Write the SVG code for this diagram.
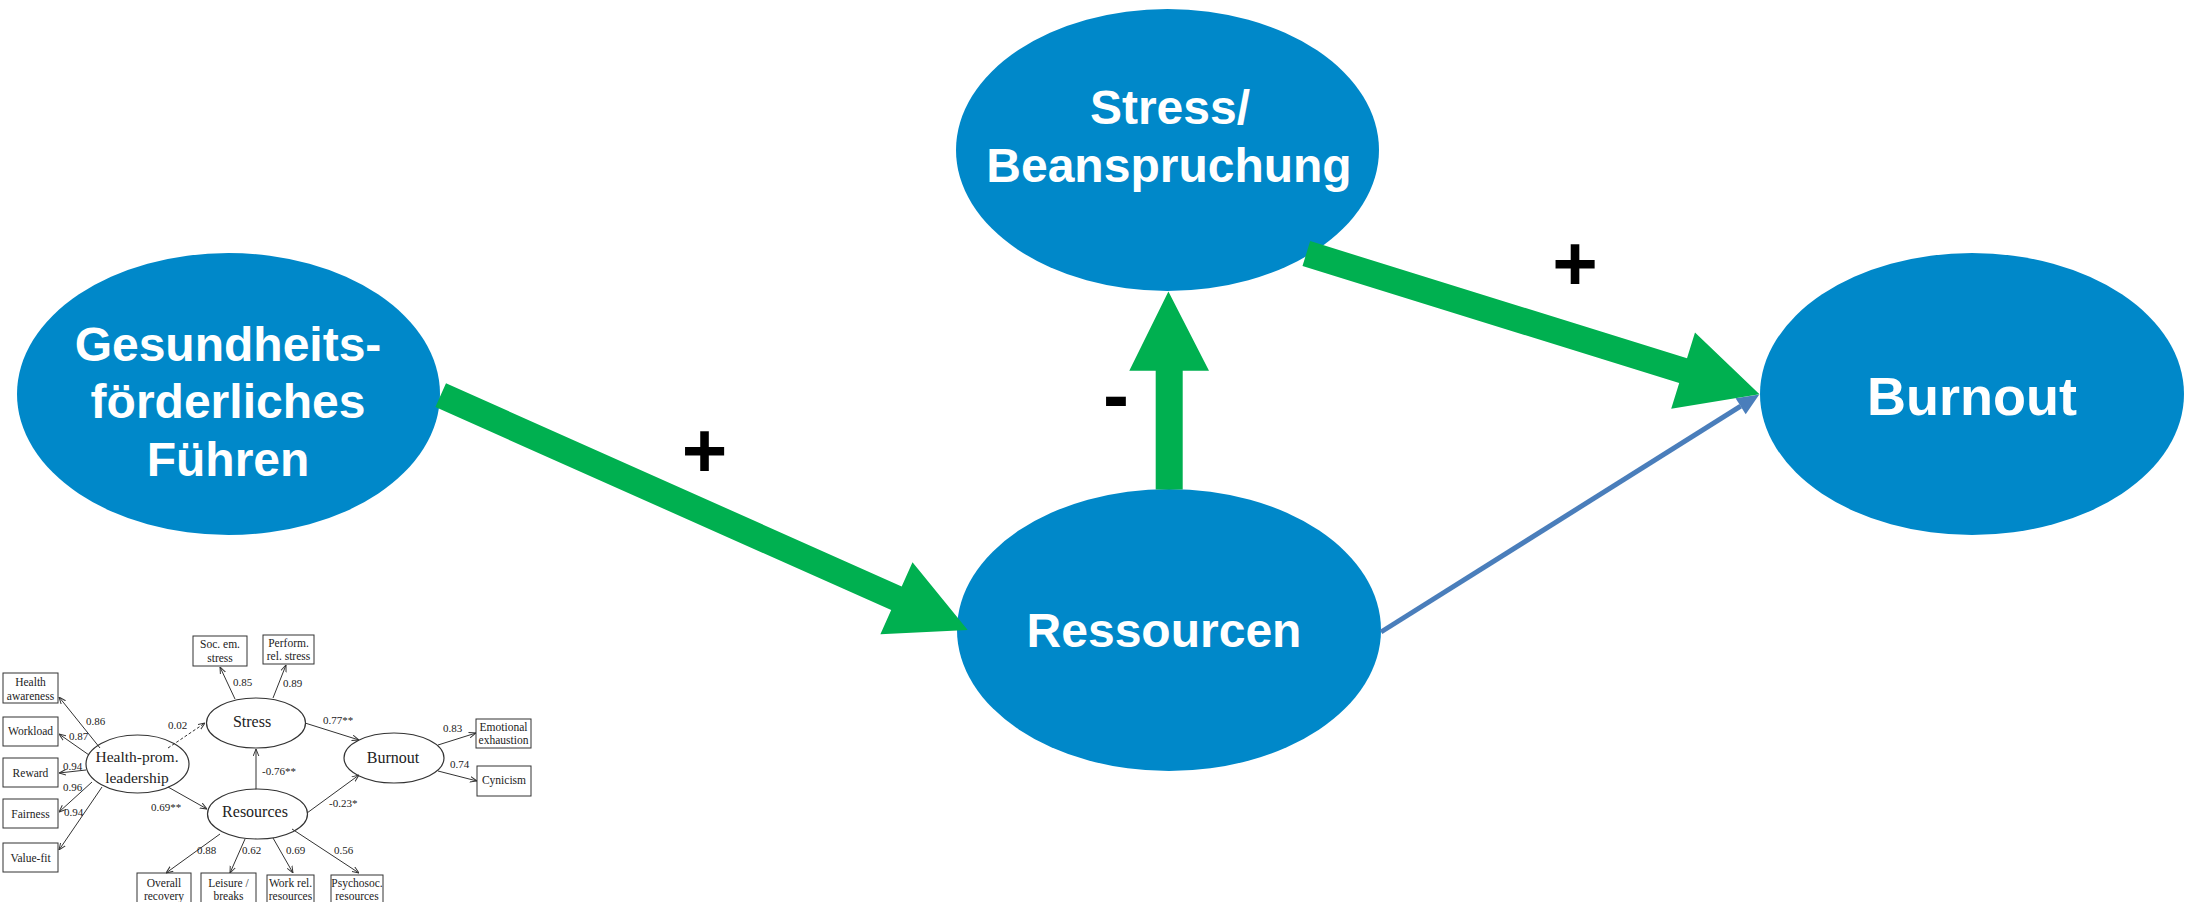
<svg xmlns="http://www.w3.org/2000/svg" width="2186" height="902" viewBox="0 0 2186 902">
<defs>
<style>
.node{fill:#0088C9}
.lbl{font-family:"Liberation Sans",Arial,sans-serif;font-weight:bold;fill:#fff;text-anchor:middle;font-size:48px}
.sign{font-family:"Liberation Sans",Arial,sans-serif;font-weight:bold;fill:#000;text-anchor:middle;font-size:78px}
.green{fill:#00B050}
.sm-box{fill:#fff;stroke:#333;stroke-width:1}
.sm-ell{fill:#fff;stroke:#333;stroke-width:1.2}
.sm-t{font-family:"Liberation Serif","Times New Roman",serif;fill:#222;font-size:11.5px;text-anchor:middle}
.sm-big{font-size:15.5px}
.sm-n{font-family:"Liberation Serif","Times New Roman",serif;font-size:11px;fill:#222}
.sm-a{stroke:#333;stroke-width:1;fill:none;marker-end:url(#sa)}
</style>
<marker id="sa" viewBox="0 0 10 10" refX="10" refY="5" markerWidth="7" markerHeight="7" markerUnits="userSpaceOnUse" orient="auto"><path d="M0,1 L10,5 L0,9" fill="none" stroke="#333" stroke-width="1.4"/></marker>
</defs>
<rect width="2186" height="902" fill="#fff"/>

<g id="node-fuehren">
<ellipse class="node" cx="228.5" cy="394" rx="211.5" ry="141"/>
<text class="lbl" x="228" y="361">Gesundheits-</text>
<text class="lbl" x="228" y="418">förderliches</text>
<text class="lbl" x="228" y="476">Führen</text>
</g>
<g id="node-stress">
<ellipse class="node" cx="1167.5" cy="150" rx="211.5" ry="141"/>
<text class="lbl" x="1170" y="124">Stress/</text>
<text class="lbl" x="1169" y="182">Beanspruchung</text>
</g>
<g id="node-ressourcen">
<ellipse class="node" cx="1169" cy="630" rx="212" ry="141"/>
<text class="lbl" x="1164" y="647">Ressourcen</text>
</g>
<g id="node-burnout">
<ellipse class="node" cx="1972" cy="394" rx="212" ry="141"/>
<text class="lbl" x="1972" y="415" style="font-size:54px">Burnout</text>
</g>

<g id="connectors">
<line x1="1381" y1="632" x2="1740.7" y2="406.2" stroke="#4A7EBB" stroke-width="5"/>
<polygon points="1759.3,394.5 1745.7,414.3 1735.6,398.2" fill="#4A7EBB"/>
<polygon class="green" points="435.4,407.1 446.0,383.3 901.7,586.4 912.5,562.2 967.7,630 880.4,634.3 891.2,610.1"/>
<polygon class="green" points="1310.2,241.1 1687.0,358.2 1695.0,332.4 1759.5,394.3 1671.2,408.8 1679.2,383.0 1302.5,265.9"/>
<polygon class="green" points="1155.7,489.5 1155.7,370.7 1129.3,370.7 1168.4,291.5 1209,370.7 1182.7,370.7 1182.7,489.5"/>
<text class="sign" x="704.5" y="476.5">+</text>
<text class="sign" x="1575" y="289.5">+</text>
<text class="sign" x="1116" y="422">-</text>
</g>

<g id="model-figure">
<g id="sm-boxes">
<rect class="sm-box" x="3" y="673" width="55" height="30"/>
<text class="sm-t" x="30.5" y="686">Health</text>
<text class="sm-t" x="30.5" y="700">awareness</text>
<rect class="sm-box" x="3" y="717" width="55" height="29"/>
<text class="sm-t" x="30.5" y="735">Workload</text>
<rect class="sm-box" x="3" y="758" width="55" height="29"/>
<text class="sm-t" x="30.5" y="777">Reward</text>
<rect class="sm-box" x="3" y="799" width="55" height="29"/>
<text class="sm-t" x="30.5" y="818">Fairness</text>
<rect class="sm-box" x="3" y="843" width="55" height="29"/>
<text class="sm-t" x="30.5" y="862">Value-fit</text>
<rect class="sm-box" x="193" y="636" width="54" height="30"/>
<text class="sm-t" x="220" y="648">Soc. em.</text>
<text class="sm-t" x="220" y="662">stress</text>
<rect class="sm-box" x="263" y="635" width="51" height="29"/>
<text class="sm-t" x="288.5" y="647">Perform.</text>
<text class="sm-t" x="288.5" y="660">rel. stress</text>
<rect class="sm-box" x="476" y="719" width="55" height="29"/>
<text class="sm-t" x="503.5" y="731">Emotional</text>
<text class="sm-t" x="503.5" y="744">exhaustion</text>
<rect class="sm-box" x="477" y="766" width="54" height="30"/>
<text class="sm-t" x="504" y="784">Cynicism</text>
<rect class="sm-box" x="137" y="873" width="54" height="34"/>
<text class="sm-t" x="164" y="887">Overall</text>
<text class="sm-t" x="164" y="900">recovery</text>
<rect class="sm-box" x="201" y="873" width="55" height="34"/>
<text class="sm-t" x="228.5" y="887">Leisure /</text>
<text class="sm-t" x="228.5" y="900">breaks</text>
<rect class="sm-box" x="267" y="875" width="47" height="34"/>
<text class="sm-t" x="290.5" y="887">Work rel.</text>
<text class="sm-t" x="290.5" y="900">resources</text>
<rect class="sm-box" x="331" y="875" width="52" height="34"/>
<text class="sm-t" x="357" y="887">Psychosoc.</text>
<text class="sm-t" x="357" y="900">resources</text>
</g>
<g id="sm-latent">
<ellipse class="sm-ell" cx="137.5" cy="764" rx="51.5" ry="29"/>
<text class="sm-t sm-big" x="137" y="762">Health-prom.</text>
<text class="sm-t sm-big" x="137" y="783">leadership</text>
<ellipse class="sm-ell" cx="256" cy="723" rx="49.5" ry="25"/>
<text class="sm-t" x="252" y="727" style="font-size:16px">Stress</text>
<ellipse class="sm-ell" cx="257.5" cy="814" rx="50" ry="25"/>
<text class="sm-t" x="255" y="817" style="font-size:16px">Resources</text>
<ellipse class="sm-ell" cx="394" cy="758" rx="50" ry="25"/>
<text class="sm-t" x="393" y="763" style="font-size:16px">Burnout</text>
</g>
<g id="sm-connectors">
<path class="sm-a" d="M100,748 L59,697"/>
<path class="sm-a" d="M89,755 L59,734"/>
<path class="sm-a" d="M86,770 L59,773"/>
<path class="sm-a" d="M92,782 L59,812"/>
<path class="sm-a" d="M102,787 L59,850"/>
<path class="sm-a" d="M168,748 L205,723" stroke-dasharray="3,2"/>
<path class="sm-a" d="M168,787 L207,809"/>
<path class="sm-a" d="M256,789 L256,749"/>
<path class="sm-a" d="M235,699 L220,667"/>
<path class="sm-a" d="M273,698 L286,665"/>
<path class="sm-a" d="M305,723 L359,740"/>
<path class="sm-a" d="M307,813 L359,775"/>
<path class="sm-a" d="M438,745 L476,733"/>
<path class="sm-a" d="M438,771 L477,781"/>
<path class="sm-a" d="M220,834 L166,873"/>
<path class="sm-a" d="M245,839 L230,873"/>
<path class="sm-a" d="M273,838 L293,873"/>
<path class="sm-a" d="M292,829 L359,873"/>
<text class="sm-n" x="86" y="725">0.86</text>
<text class="sm-n" x="69" y="740">0.87</text>
<text class="sm-n" x="63" y="770">0.94</text>
<text class="sm-n" x="63" y="791">0.96</text>
<text class="sm-n" x="64" y="816">0.94</text>
<text class="sm-n" x="168" y="729">0.02</text>
<text class="sm-n" x="151" y="811">0.69**</text>
<text class="sm-n" x="262" y="775">-0.76**</text>
<text class="sm-n" x="233" y="686">0.85</text>
<text class="sm-n" x="283" y="687">0.89</text>
<text class="sm-n" x="323" y="724">0.77**</text>
<text class="sm-n" x="329" y="807">-0.23*</text>
<text class="sm-n" x="443" y="732">0.83</text>
<text class="sm-n" x="450" y="768">0.74</text>
<text class="sm-n" x="197" y="854">0.88</text>
<text class="sm-n" x="242" y="854">0.62</text>
<text class="sm-n" x="286" y="854">0.69</text>
<text class="sm-n" x="334" y="854">0.56</text>
</g>
</g>
</svg>
